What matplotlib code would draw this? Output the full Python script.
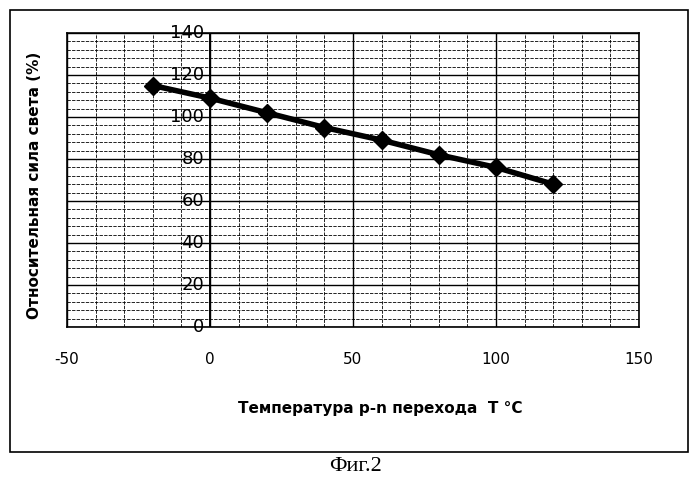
import matplotlib
matplotlib.use("Agg")
import matplotlib.pyplot as plt
from matplotlib.patches import Rectangle
import numpy as np

plt.rcParams["axes.unicode_minus"] = False

temps = [-20, 0, 20, 40, 60, 80, 100, 120]
intensity = [115, 109, 102, 95, 89, 82, 76, 68]
x_ticks = [-50, 0, 50, 100, 150]
y_ticks = [0, 20, 40, 60, 80, 100, 120, 140]

fig = plt.figure(figsize=(7, 4.86), dpi=100)
fig.patches.append(Rectangle((10/700, 1-452/486), 678/700, 442/486, transform=fig.transFigure,
                             fill=False, edgecolor="black", linewidth=1.2))
ax = fig.add_axes([67/700, 1-327/486, 572/700, 294/486])
ax.set_xlim(-50, 150)
ax.set_ylim(0, 140)
ax.set_xticks(x_ticks)
ax.set_xticks(np.arange(-50, 151, 10), minor=True)
ax.set_yticks(y_ticks)
ax.set_yticks(np.arange(0, 141, 4), minor=True)
ax.grid(which="major", color="black", linewidth=1.0)
ax.grid(which="minor", color="black", linewidth=0.6, linestyle=(0, (4, 1.5)))
ax.tick_params(which="both", length=0)
ax.tick_params(axis="x", labelsize=11, pad=18)
ax.set_yticklabels([])
for s in ax.spines.values():
    s.set_linewidth(1.2)
ax.axvline(0, color="black", linewidth=1.4)
for v in y_ticks:
    ax.text(-2, v, str(v), ha="right", va="center", fontsize=13)
ax.plot(temps, intensity, color="black", linewidth=4, marker="D", markersize=9)
ax.set_axisbelow(True)
fig.text(35/700, 1-185/486, "Относительная сила света (%)", rotation=90, ha="center", va="center",
         fontsize=11, fontweight="bold")
fig.text(380/700, 1-408/486, "Температура p-n перехода  T °C", ha="center", va="center",
         fontsize=11, fontweight="bold")
fig.text(355/700, 1-466/486, "Фиг.2", ha="center", va="center", fontsize=16, family="Liberation Serif")
fig.savefig("out.png", dpi=100)
